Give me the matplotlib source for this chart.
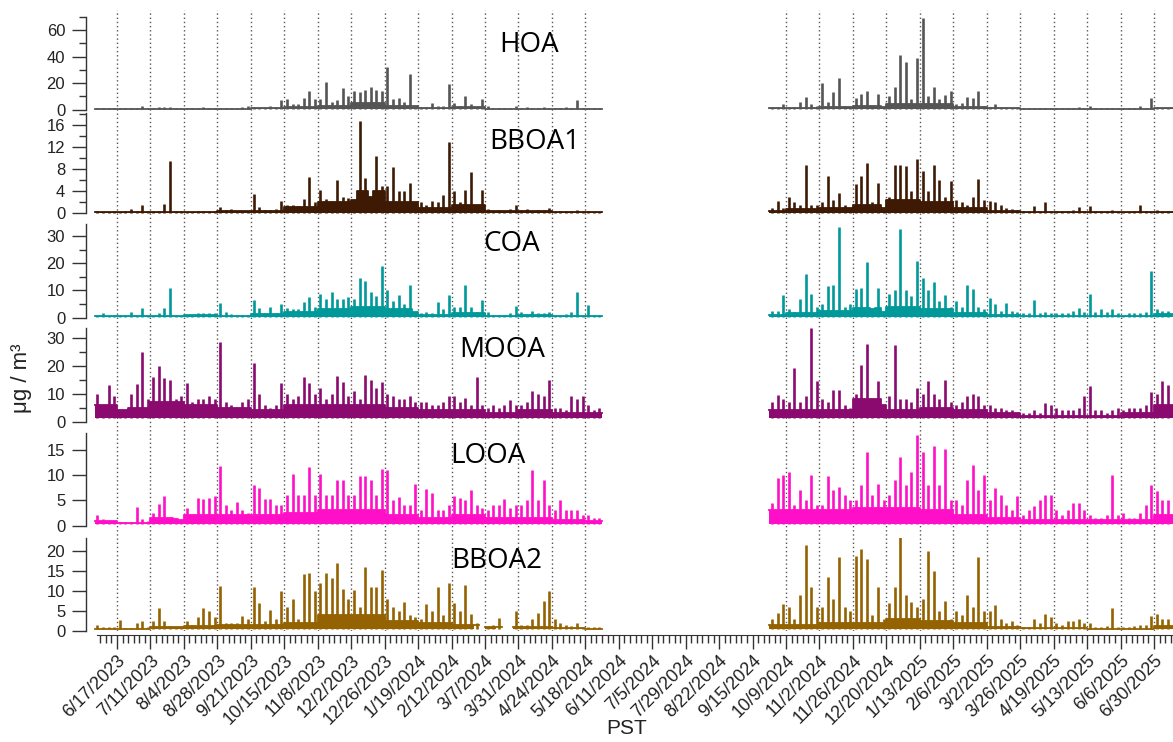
import datetime as dt

import matplotlib

matplotlib.use("Agg")
import matplotlib.dates as mdates
import matplotlib.pyplot as plt
import numpy as np
from matplotlib.ticker import FixedLocator, MultipleLocator, NullLocator

# CONFIG ===============================================================================================================

OUT_PATH = "out.png"
FIG_W_PX, FIG_H_PX, DPI = 1173, 742, 100
TICK_FONT = "Liberation Sans"
LABEL_FONT = "Open Sans"

TICK_LABELS = [
    "6/17/2023", "7/11/2023", "8/4/2023", "8/28/2023", "9/21/2023", "10/15/2023", "11/8/2023", "12/2/2023",
    "12/26/2023", "1/19/2024", "2/12/2024", "3/7/2024", "3/31/2024", "4/24/2024", "5/18/2024", "6/11/2024",
    "7/5/2024", "7/29/2024", "8/22/2024", "9/15/2024", "10/9/2024", "11/2/2024", "11/26/2024", "12/20/2024",
    "1/13/2025", "2/6/2025", "3/2/2025", "3/26/2025", "4/19/2025", "5/13/2025", "6/6/2025", "6/30/2025",
]
NO_GRID = ["6/11/2024", "7/5/2024", "7/29/2024", "8/22/2024", "9/15/2024"]

SEG1_START = "6/1/2023"
SEG2_START = "9/27/2024"
BIN_DAYS = 4

# DATA =================================================================================================================

HOA_PEAK_1 = [
    1, 1, 1, 1,
    1, 1, 1, 1, 3, 1,
    1, 2, 2, 2, 1, 1,
    1, 1, 1, 2, 1.5, 1.5,
    1, 1, 1, 1, 2, 2.5,
    2, 1, 1, 3, 2, 7,
    8, 4, 4, 9, 14, 8,
    8, 21, 6, 7, 16, 10,
    14, 13, 15, 17, 15, 14,
    32, 8, 9, 6, 27, 3,
    2, 2, 5, 3, 3, 19,
    5, 3, 10, 4, 2, 8,
    3, 1, 1, 1, 1, 3,
    1, 2, 1, 1, 2, 1,
    1, 1, 2, 1, 7, 1,
    1.5, 1, 1,
]
HOA_PEAK_2 = [
    2, 2, 4,
    2, 2, 6, 9.5, 4, 3,
    20, 6, 13, 24, 3, 2,
    9, 12, 14, 3, 12, 2,
    10, 17, 41, 36, 8, 39,
    69, 10, 17, 8, 11, 14,
    4, 5, 9.5, 9, 14, 3,
    2, 4, 2, 2, 1, 2,
    1, 1, 1.5, 1, 1.5, 1,
    1, 1, 1, 1, 2, 1.5,
    3, 1, 1.5, 1, 1, 1,
    1, 1, 1, 2.5, 1, 9,
    2, 1, 1.5, 1.5,
]
HOA_BASE_1 = [0.5, 0.5, 0.5, 0.5, 0.5, 0.8, 2, 3, 5, 3, 1, 2, 0.5, 0.5, 0.5, 0.5]
HOA_BASE_2 = [1, 1, 2, 3, 4, 4, 2, 1, 0.5, 0.5, 0.5, 0.5, 0.8]

BBOA1_PEAK_1 = [
    0.4, 0.3, 0.3, 0.4,
    0.3, 0.5, 0.8, 0.4, 1.5, 0.4,
    0.4, 0.5, 1.8, 9.5, 0.5, 0.5,
    0.2, 0.2, 0.4, 0.5, 0.5, 0.5,
    1.2, 0.7, 0.8, 0.5, 0.5, 0.4,
    3.5, 1.2, 0.6, 0.6, 0.8, 2.2,
    1.5, 1.5, 1.3, 2.6, 6.6, 2,
    4.2, 2.6, 2.2, 6, 3, 2.8,
    2.5, 16.7, 6.5, 3, 10.5, 5,
    5, 8.4, 4, 4, 5.5, 2,
    2, 1.5, 2.2, 2, 3.3, 13,
    4, 2, 4.3, 7.5, 1.5, 4.2,
    0.8, 0.5, 0.7, 0.5, 0.8, 1.5,
    0.6, 0.8, 0.5, 0.6, 0.6, 1,
    0.5, 0.4, 0.4, 0.5, 0.6, 0.4,
    0.4, 0.3, 0.3,
]
BBOA1_PEAK_2 = [
    1, 2.3, 1,
    3, 2, 1.5, 8.8, 1.5, 1.5,
    2, 6.8, 2.5, 3.8, 1.5, 1,
    5.3, 6.8, 9.1, 2, 5.6, 1,
    3, 8.8, 8.8, 8.6, 4, 9.8,
    7.7, 4, 8.7, 6, 3, 5.9,
    2.5, 2, 1.5, 3, 6.2, 2.5,
    2.2, 2, 1.5, 1, 0.8, 0.6,
    0.5, 0.5, 1.4, 0.5, 2, 0.5,
    0.5, 0.4, 0.5, 0.6, 1.2, 0.5,
    1.3, 0.4, 0.4, 0.5, 0.7, 0.4,
    0.3, 0.3, 0.4, 1.6, 0.5, 0.4,
    0.6, 0.4, 0.4, 0.5,
]
BBOA1_BASE_1 = [0.3, 0.3, 0.3, 0.3, 0.4, 0.5, 1.2, 2, 4, 2, 1, 1.5, 0.4, 0.4, 0.3, 0.3]
BBOA1_BASE_2 = [0.5, 0.8, 1, 1.5, 2.5, 2, 1, 0.5, 0.3, 0.3, 0.3, 0.2, 0.3]

COA_PEAK_1 = [
    0.8, 1.8, 0.7, 1,
    0.8, 0.8, 2, 0.8, 3.4, 1,
    0.8, 1.5, 3.4, 11, 0.8, 0.6,
    0.8, 0.8, 1.5, 1.8, 1.8, 1.5,
    5.2, 2, 1.2, 1, 0.8, 0.8,
    6.5, 3.5, 1.5, 3.8, 1.8, 4.9,
    3.5, 3, 3, 5.9, 7.7, 4,
    8.7, 6.7, 9.3, 7, 7, 7.7,
    7, 14.4, 13.5, 9.5, 8, 18.9,
    10, 6, 8.3, 5, 12, 2,
    1.5, 2, 1.5, 5.9, 3, 8.3,
    4, 4, 12, 4, 2, 6.5,
    2, 1, 1, 1, 1.5, 4.3,
    2, 1.2, 2.5, 1.5, 1.5, 2,
    1, 1, 1.2, 2, 9.5, 1,
    4.6, 1, 0.8,
]
COA_PEAK_2 = [
    2.5, 2.5, 8.3,
    3, 2, 7, 16, 8.5, 4,
    5, 11.6, 12, 33.5, 4, 5,
    10.4, 11, 20.5, 3, 11, 2,
    8.5, 10, 32.7, 10, 8, 21,
    14.4, 10, 13, 6, 8.3, 4,
    6, 4, 12, 10.4, 4, 3,
    7.3, 5, 2.5, 5.5, 2.5, 2,
    1.5, 1.5, 6.3, 1.5, 2, 1.5,
    1.5, 1.5, 1.5, 2.5, 3.5, 2,
    8.5, 2, 3, 2, 3, 1.5,
    1, 1.5, 1.5, 1.5, 2, 17.3,
    3, 2.5, 2.5, 3.5,
]
COA_BASE_1 = [0.5, 0.5, 0.5, 0.8, 0.7, 1.2, 2, 3, 4, 3, 1, 1.5, 0.6, 0.8, 0.5, 0.5]
COA_BASE_2 = [1, 1.5, 2.5, 3.5, 4, 3, 1.5, 1, 0.7, 0.7, 0.7, 0.7, 1.2]

MOOA_PEAK_1 = [
    10, 6, 13, 9,
    4, 4, 10, 13.4, 24.8, 8,
    16, 20, 15.5, 14.7, 8, 9,
    13.8, 7, 8, 8, 9, 8,
    28.4, 7, 6, 5, 7, 8,
    21, 10, 6, 5, 6, 13.8,
    10, 8, 9, 15.8, 13.8, 10,
    12, 8, 10, 16.2, 14, 9,
    11, 8, 16.8, 15, 12, 14,
    10, 9, 8, 8, 9, 7,
    7, 7, 6, 6, 7, 9,
    9, 7, 8.4, 6, 16, 6,
    5, 6, 5, 6, 7.8, 6,
    6, 7, 10.8, 10, 9, 15,
    5, 5, 4, 9, 8, 9,
    6, 4, 5,
]
MOOA_PEAK_2 = [
    7, 9.6, 8,
    7, 19, 7, 9, 33.5, 14.6,
    8, 7, 11.4, 11.4, 6, 5,
    10, 20.4, 27.9, 8, 14.4, 6,
    9, 27.5, 8, 8, 7, 12,
    10, 14.4, 10, 8, 14.7, 7,
    6, 7, 9, 10, 9, 6,
    6, 5, 5, 4, 4, 3,
    3, 3, 4, 3, 6.8, 6,
    5, 4, 4, 4, 5, 9,
    12.6, 4, 4, 3, 4, 5,
    4, 5, 5, 5, 6, 10.4,
    10, 14.4, 13, 17,
]
MOOA_BASE_1 = [6, 5, 7, 6, 5, 4, 6, 6, 6, 5, 4, 4, 3, 4, 3, 3]
MOOA_BASE_2 = [4, 4, 4, 8, 4, 5, 4, 3, 2, 2, 2, 3, 6]

LOOA_PEAK_1 = [
    2, 1.2, 0.9, 0.8,
    0.7, 0.7, 0.7, 3.7, 1.2, 0.8,
    2.5, 4.2, 5.8, 1.5, 1.2, 1,
    3.5, 2, 5.5, 5.3, 5.5, 5.8,
    11.8, 4, 3, 4.6, 3, 2.5,
    8.1, 7.5, 5.3, 5.3, 4, 4,
    6, 10.1, 6, 6, 11.5, 6,
    10.1, 6, 6, 9.1, 9.1, 6,
    6, 9.8, 9.8, 9, 6, 11.1,
    10.9, 5, 5.6, 4, 4, 8.3,
    3, 7.3, 6.5, 3, 3, 4,
    5.8, 5.5, 5, 7, 4, 3.5,
    3, 4, 4, 5.3, 3.5, 4,
    4, 5, 10.9, 5, 9.1, 4,
    3, 5, 3, 3, 3, 2,
    2, 1.5, 1.5,
]
LOOA_PEAK_2 = [
    4.5, 9.4, 10,
    10.5, 4, 7.1, 5, 10, 4,
    4, 9.8, 7, 7.7, 6, 5,
    5, 8, 14.6, 6, 8.2, 5,
    6, 9, 13.5, 8, 10.6, 17.9,
    14.6, 8, 15.8, 8, 15.2, 5,
    5, 4, 9, 11.9, 7, 10,
    5, 7.4, 6, 4, 3, 5.8,
    2, 3, 3.9, 5, 6.1, 6,
    3, 2, 3, 4.5, 4.5, 3,
    2, 1.5, 1.5, 2, 10, 2,
    2.5, 1.5, 1.5, 2.5, 4, 8,
    6.8, 5, 5, 7.7,
]
LOOA_BASE_1 = [0.8, 0.6, 1.5, 2, 2, 2, 2.5, 3, 3, 2, 1.5, 2, 1.5, 1.5, 1, 0.8]
LOOA_BASE_2 = [3, 3, 3, 3.5, 3.5, 3, 2, 1.5, 1, 1, 1, 1, 2]

NAN = float("nan")
BBOA2_PEAK_1 = [
    1.3, 0.8, 0.8, 0.8,
    2.6, 0.7, 0.7, 2, 2.3, 0.8,
    2.5, 5.6, 2.5, 1.2, 1, 0.8,
    2.5, 1.5, 3.5, 5.6, 5, 3.5,
    11.3, 2, 2, 2, 3.8, 3,
    11, 7, 2.5, 5.1, 3, 10.1,
    6, 8.1, 3, 14.4, 14.5, 10,
    12, 14.5, 13.2, 17.1, 10.5, 8,
    10.3, 6, 16, 11, 11, 15.4,
    8, 6, 5, 7.1, 4, 3.5,
    3, 6.8, 5, 10.9, 4, 12,
    7, 5, 11.6, 4.3, 2, NAN,
    1.2, 1.5, 3.2, NAN, NAN, 5,
    1.5, 1.5, 3, 4.5, 7.5, 9.9,
    3, 2, 1.5, 1.2, 1.8, 1,
    1, 0.8, 0.8,
]
BBOA2_PEAK_2 = [
    3, 4.5, 6.7,
    6, 3, 9, 21.6, 10.9, 6,
    6, 13.5, 8, 18.5, 6, 5,
    18.8, 20.5, 18.2, 4, 10.9, 3,
    7, 10.9, 23.8, 9, 7.1, 6,
    8, 20.2, 15, 5, 7.5, 3,
    5, 4, 9, 6, 18.6, 5,
    5, 6.5, 3, 2, 2.5, 1.5,
    1, 1, 2.8, 2, 4.3, 3.5,
    2, 1.5, 2.5, 2.5, 3, 2,
    2, 1, 1, 1.2, 5.8, 1,
    1, 1, 1.2, 1.5, 1.5, 3.7,
    4.1, 3, 3, 5,
]
BBOA2_BASE_1 = [0.5, 0.5, 1, 1.2, 1.5, 1.5, 2, 4, 4, 2.5, 2, 1.5, 0.8, 1, 0.7, 0.5]
BBOA2_BASE_2 = [1.5, 1.5, 2, 2, 3, 2.5, 2, 1, 0.7, 0.7, 0.5, 0.5, 1.2]

# panel: name, color, y top, major step, minor step, floor, top px, bottom px, label centre px
PANELS = [
    ("HOA", "#555555", 70, 20, 10, 0.2, 17, 110, (529, 45),
     HOA_PEAK_1, HOA_PEAK_2, HOA_BASE_1, HOA_BASE_2),
    ("BBOA1", "#3e1a04", 18.2, 4, 2, 0.1, 113, 214, (535, 142),
     BBOA1_PEAK_1, BBOA1_PEAK_2, BBOA1_BASE_1, BBOA1_BASE_2),
    ("COA", "#00999a", 34.5, 10, 5, 0.3, 224, 318, (512, 244),
     COA_PEAK_1, COA_PEAK_2, COA_BASE_1, COA_BASE_2),
    ("MOOA", "#8a0a70", 33.5, 10, 5, 1.2, 328, 422, (502, 350),
     MOOA_PEAK_1, MOOA_PEAK_2, MOOA_BASE_1, MOOA_BASE_2),
    ("LOOA", "#ff10c8", 18.3, 5, None, 0.4, 433, 526, (488, 456),
     LOOA_PEAK_1, LOOA_PEAK_2, LOOA_BASE_1, LOOA_BASE_2),
    ("BBOA2", "#946200", 23.4, 5, None, 0.3, 538, 631, (497, 561),
     BBOA2_PEAK_1, BBOA2_PEAK_2, BBOA2_BASE_1, BBOA2_BASE_2),
]


# HELPERS ==============================================================================================================

def to_num(text: str) -> float:
    return mdates.date2num(dt.datetime.strptime(text, "%m/%d/%Y"))


TICK_NUMS = np.array([to_num(s) for s in TICK_LABELS])
GRID_NUMS = np.array([to_num(s) for s in TICK_LABELS if s not in NO_GRID])
PX_PER_DAY = (1154 - 117) / (TICK_NUMS[-1] - TICK_NUMS[0])
AX_LEFT_PX = 86
XLIM = (TICK_NUMS[0] - (117 - AX_LEFT_PX) / PX_PER_DAY, TICK_NUMS[0] + (FIG_W_PX - 117) / PX_PER_DAY)
AXIS_LINE_START = TICK_NUMS[0] - (117 - 97) / PX_PER_DAY


def fig_rect(top_px: float, bottom_px: float) -> list[float]:
    left = AX_LEFT_PX / FIG_W_PX
    return [left, 1 - bottom_px / FIG_H_PX, 1 - left, (bottom_px - top_px) / FIG_H_PX]


def draw_segment(ax, start: str, peaks, bases, color: str, floor: float) -> None:
    peaks = np.asarray(peaks, dtype=float)
    t0 = to_num(start) + BIN_DAYS * np.arange(len(peaks))
    seg_grid = GRID_NUMS[(GRID_NUMS > t0[0]) & (GRID_NUMS < t0[-1] + BIN_DAYS)]
    base = np.asarray(bases, dtype=float)[np.searchsorted(seg_grid, t0, side="right")]
    base = np.minimum(base, peaks)

    edges = np.append(t0, t0[-1] + BIN_DAYS)
    body = np.append(base, base[-1])
    valid = ~np.isnan(body)
    ax.fill_between(edges, floor, body, where=valid, step="post", color=color, lw=0, zorder=2)
    ax.step(edges, body, where="post", color=color, lw=1.3, zorder=2)
    ax.vlines(t0 + BIN_DAYS / 2, floor, peaks, color=color, lw=1.9, zorder=3)


def style_panel(ax, y_top: float, major: float, minor) -> None:
    ax.set_facecolor("none")
    ax.set_xlim(*XLIM)
    ax.set_ylim(-0.005 * y_top, y_top)
    for side in ("top", "right", "bottom"):
        ax.spines[side].set_visible(False)
    ax.spines["left"].set_color("#333333")
    ax.spines["left"].set_linewidth(1.0)
    ax.spines["left"].set_bounds(0, y_top)
    ax.yaxis.set_major_locator(MultipleLocator(major))
    ax.yaxis.set_minor_locator(MultipleLocator(minor) if minor else NullLocator())
    ax.tick_params(axis="y", which="major", direction="out", length=10, width=1.0, color="#333333",
                   labelsize=12, pad=5, labelcolor="#222222")
    ax.tick_params(axis="y", which="minor", direction="out", length=5, width=1.0, color="#333333")
    for lab in ax.get_yticklabels():
        lab.set_fontfamily(TICK_FONT)
    ax.xaxis.set_major_locator(NullLocator())
    ax.xaxis.set_minor_locator(NullLocator())


def style_time_axis(ax) -> None:
    ax.spines["bottom"].set_visible(True)
    ax.spines["bottom"].set_position(("outward", 3))
    ax.spines["bottom"].set_bounds(AXIS_LINE_START, XLIM[1])
    ax.spines["bottom"].set_color("#333333")
    ax.xaxis.set_major_locator(FixedLocator(TICK_NUMS))
    ax.xaxis.set_minor_locator(FixedLocator(np.arange(TICK_NUMS[0] - 12, XLIM[1], BIN_DAYS)))
    ax.set_xticklabels(TICK_LABELS, rotation=45, ha="right", va="top", rotation_mode="anchor",
                       fontfamily=TICK_FONT, fontsize=13, color="#222222")
    ax.tick_params(axis="x", which="major", direction="out", length=10, width=1.0, color="#333333", pad=2)
    ax.tick_params(axis="x", which="minor", direction="out", length=5.5, width=1.0, color="#333333")


# MAIN =================================================================================================================

def main() -> None:
    fig = plt.figure(figsize=(FIG_W_PX / DPI, FIG_H_PX / DPI), dpi=DPI)

    grid_ax = fig.add_axes(fig_rect(10, 631))
    grid_ax.set_xlim(*XLIM)
    grid_ax.set_ylim(0, 1)
    grid_ax.axis("off")
    grid_ax.vlines(GRID_NUMS, 0, 1, colors="#555555", linestyles=(0, (1, 2)), lw=1.0)

    ax = None
    for (name, color, y_top, major, minor, floor, top_px, bottom_px, label_xy,
         peak1, peak2, base1, base2) in PANELS:
        ax = fig.add_axes(fig_rect(top_px, bottom_px))
        draw_segment(ax, SEG1_START, peak1, base1, color, floor)
        draw_segment(ax, SEG2_START, peak2, base2, color, floor)
        style_panel(ax, y_top, major, minor)
        fig.text(label_xy[0] / FIG_W_PX, 1 - label_xy[1] / FIG_H_PX, name, ha="center", va="center",
                 fontsize=20, fontfamily=LABEL_FONT, color="black")

    style_time_axis(ax)

    fig.text(22 / FIG_W_PX, 1 - 378 / FIG_H_PX, "μg / m³", rotation=90, ha="center", va="center",
             fontsize=16, fontfamily=TICK_FONT, color="#222222")
    fig.text(627 / FIG_W_PX, 1 - 728 / FIG_H_PX, "PST", ha="center", va="center",
             fontsize=15, fontfamily=TICK_FONT, color="#222222")

    fig.savefig(OUT_PATH, dpi=DPI)


if __name__ == "__main__":
    main()
